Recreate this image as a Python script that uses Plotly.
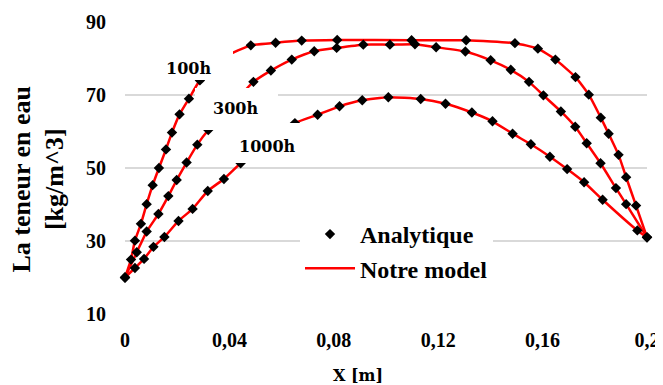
import plotly.graph_objects as go

# ---------------- data ----------------
x_100h = [0, 0.0023, 0.0038, 0.0061, 0.0083, 0.0106, 0.0130, 0.0157, 0.0180, 0.0209, 0.0245, 0.0287,
          0.0385, 0.0482, 0.0577, 0.0677, 0.0813, 0.1098, 0.1307, 0.1494, 0.1582, 0.1649, 0.1726,
          0.1777, 0.1823, 0.1853, 0.1891, 0.1920, 0.1958, 0.2]
y_100h = [20, 24.9, 30.1, 34.7, 40.1, 45.3, 50.0, 55.1, 59.7, 64.7, 69.0, 74.0,
          80.5, 83.6, 84.3, 84.9, 85.1, 85.0, 85.0, 84.2, 82.7, 79.7, 74.9,
          70.1, 63.8, 59.4, 53.6, 47.5, 39.7, 31.0]

x_300h = [0, 0.0045, 0.0083, 0.0128, 0.0166, 0.0198, 0.0236, 0.0277, 0.0319, 0.0405, 0.0492,
          0.0559, 0.0639, 0.0725, 0.0811, 0.0913, 0.1015, 0.1111, 0.1192, 0.1304, 0.1401,
          0.1478, 0.1548, 0.1603, 0.1670, 0.1725, 0.1769, 0.1822, 0.1881, 0.1920, 0.2]
y_300h = [20, 26.9, 32.6, 37.4, 42.3, 46.7, 51.5, 56.4, 60.4, 67.0, 73.6,
          76.7, 79.7, 82.0, 82.9, 83.8, 83.8, 83.9, 83.1, 81.9, 79.5,
          76.9, 73.6, 69.9, 65.5, 61.3, 56.8, 51.3, 44.5, 40.1, 31.0]

x_1000h = [0, 0.0038, 0.0073, 0.0109, 0.0151, 0.0205, 0.0259, 0.0317, 0.0379, 0.0443, 0.0545,
           0.0651, 0.0738, 0.0822, 0.0909, 0.1009, 0.1133, 0.1228, 0.1329, 0.1408, 0.1485,
           0.1555, 0.1628, 0.1694, 0.1759, 0.1830, 0.1963, 0.2]
y_1000h = [20, 22.6, 25.1, 28.4, 31.1, 35.5, 38.8, 43.7, 47.0, 51.3, 57.0,
           62.3, 64.6, 66.9, 68.55, 69.4, 68.9, 67.6, 65.2, 62.8, 59.4,
           56.5, 53.1, 49.7, 46.1, 41.3, 32.9, 31.0]

curve_labels = ["100h", "300h", "1000h"]
series_names = ["Analytique", "Notre model"]
x_tickvals = [0, 0.04, 0.08, 0.12, 0.16, 0.2]
x_ticktext = ["0", "0,04", "0,08", "0,12", "0,16", "0,2"]
y_tickvals = [10, 30, 50, 70, 90]
x_title = "X [m]"
y_title = "La teneur en eau<br>[kg/m^3]"

# ---------------- layout geometry ----------------
# the page body has an 8px margin, so the figure sits 8px right/down in the window
OFF = 8
VW, VH = 663, 385                      # window size
PL, PR, PT, PB = 125, 647, 22, 314     # plot area edges in window pixels
W, H = VW - OFF, VH - OFF
ML, MT = PL - OFF, PT - OFF
MR, MB = W - (PR - OFF), H - (PB - OFF)
PW, PH = PR - PL, PB - PT


def px(xp):
    return (xp - PL) / PW


def py(yp):
    return (PB - yp) / PH


SERIF = "Liberation Serif"
LABEL_FONT = "DejaVu Serif"

curves = [(x_100h, y_100h), (x_300h, y_300h), (x_1000h, y_1000h)]

fig = go.Figure()

# model lines (red)
for i, (xs, ys) in enumerate(curves):
    fig.add_trace(go.Scatter(
        x=xs, y=ys, mode="lines", name=series_names[1],
        line=dict(color="#ff0000", width=2.5, shape="spline", smoothing=0.5),
        legendgroup="model", showlegend=(i == 0), legendrank=2, cliponaxis=False))

# analytic points (black diamonds)
for i, (xs, ys) in enumerate(curves):
    fig.add_trace(go.Scatter(
        x=xs, y=ys, mode="markers", name=series_names[0],
        marker=dict(symbol="diamond", size=8, color="black"),
        legendgroup="ana", showlegend=(i == 0), legendrank=1, cliponaxis=False))

# white label boxes (window-pixel geometry) and curve labels
boxes = [(143, 233, 40, 80), (195, 278, 88, 130), (225, 309, 123, 163)]
label_pos = [(188, 69), (235, 109), (267, 146)]
for (x0, x1, y0, y1), (lx, ly), lab in zip(boxes, label_pos, curve_labels):
    fig.add_shape(type="rect", xref="paper", yref="paper",
                  x0=px(x0), x1=px(x1), y0=py(y1), y1=py(y0),
                  fillcolor="white", line=dict(width=0), layer="above")
    fig.add_annotation(xref="paper", yref="paper", x=px(lx), y=py(ly),
                       text=lab, showarrow=False, xanchor="center", yanchor="middle",
                       font=dict(family=LABEL_FONT, size=16, color="black", weight="bold"))

# axis titles
fig.add_annotation(xref="paper", yref="paper", x=px(38), y=py(179.5),
                   text=y_title, textangle=-90, showarrow=False,
                   xanchor="center", yanchor="middle",
                   font=dict(family=SERIF, size=26, color="black", weight="bold"))
fig.add_annotation(xref="paper", yref="paper", x=px(358), y=py(385),
                   text=x_title, showarrow=False, xanchor="center", yanchor="bottom",
                   borderpad=0, borderwidth=0,
                   font=dict(family=LABEL_FONT, size=16, color="black", weight="bold"))

fig.update_layout(
    width=W, height=H,
    margin=dict(l=ML, r=MR, t=MT, b=MB, autoexpand=False),
    paper_bgcolor="white", plot_bgcolor="white",
    showlegend=True,
    legend=dict(x=px(300), y=py(212), xanchor="left", yanchor="top",
                bgcolor="white", borderwidth=0,
                font=dict(family=SERIF, size=24, color="black", weight="bold"),
                itemwidth=50, tracegroupgap=0),
    xaxis=dict(range=[0, 0.2], tickvals=x_tickvals, ticktext=x_ticktext,
               showgrid=False, zeroline=False, showline=False, automargin=False,
               ticks="outside", ticklen=8, tickcolor="rgba(0,0,0,0)",
               tickfont=dict(family=SERIF, size=20, color="black", weight="bold")),
    yaxis=dict(range=[10, 90], tickvals=y_tickvals,
               showgrid=True, gridcolor="#d9d9d9", gridwidth=1.5,
               zeroline=False, showline=False, automargin=False,
               ticks="outside", ticklen=14, tickcolor="rgba(0,0,0,0)",
               tickfont=dict(family=SERIF, size=20, color="black", weight="bold")),
)

fig.write_html("out.html")
